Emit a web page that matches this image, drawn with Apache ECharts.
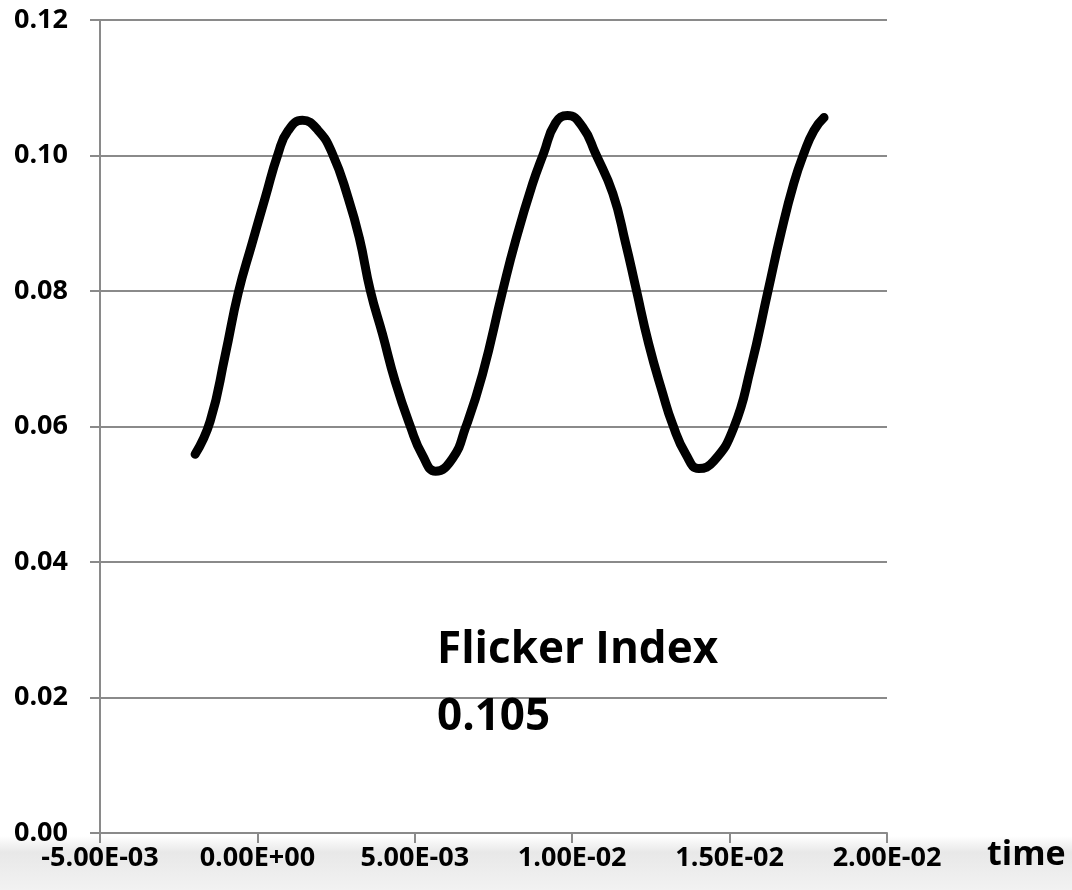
<!DOCTYPE html>
<html>
<head>
<meta charset="utf-8">
<script src="https://cdn.jsdelivr.net/npm/echarts@6/dist/echarts.min.js"></script>
<style>
html,body{margin:0;padding:0;background:#fff;}
#chart{width:1072px;height:890px;}
</style>
</head>
<body>
<div id="chart"></div>
<script>
// Data
var timeValues = [-0.00198,-0.00150,-0.00102,-0.00061,-0.00017,0.00025,0.00066,0.00098,0.00143,0.00193,0.00238,0.00288,0.00324,0.00359,0.00397,0.00438,0.00486,0.00524,0.00566,0.00620,0.00661,0.00715,0.00779,0.00820,0.00874,0.00909,0.00947,0.00985,0.01033,0.01074,0.01129,0.01170,0.01202,0.01243,0.01288,0.01319,0.01361,0.01402,0.01450,0.01513,0.01567,0.01622,0.01663,0.01704,0.01736,0.01768,0.01800];
var flickerValues = [0.0559,0.0608,0.0706,0.0797,0.0870,0.0938,0.1003,0.1037,0.1052,0.1037,0.1003,0.0938,0.0878,0.0800,0.0737,0.0666,0.0600,0.0558,0.0534,0.0553,0.0598,0.0677,0.0800,0.0874,0.0958,0.1003,0.1048,0.1059,0.1042,0.1003,0.0944,0.0870,0.0805,0.0722,0.0648,0.0603,0.0559,0.0538,0.0549,0.0598,0.0686,0.0800,0.0885,0.0959,0.1003,0.1037,0.1056];
var xTickLabels = {"-0.005":"-5.00E-03","0":"0.00E+00","0.005":"5.00E-03","0.01":"1.00E-02","0.015":"1.50E-02","0.02":"2.00E-02"};
var annotationLines = ["Flicker Index","0.105"];
var xAxisName = "time";

var pts = timeValues.map(function(t,i){return [t, flickerValues[i]];});
var FONT = '"Open Sans", "DejaVu Sans", sans-serif';
var gridColor = '#8a8a8a';

var chart = echarts.init(document.getElementById('chart'));
chart.setOption({
  animation:false,
  backgroundColor:'#ffffff',
  graphic:[
    {type:'rect', z:-10, silent:true, shape:{x:0,y:836,width:1072,height:54},
     style:{fill:new echarts.graphic.LinearGradient(0,0,0,1,[
       {offset:0,color:'#ffffff'},{offset:0.3,color:'#e8e8e8'},{offset:1,color:'#f2f2f2'}])}},
    {type:'text', left:437, top:628, z:10,
     style:{text:annotationLines[0], font:'bold 44px '+FONT, fill:'#000'}},
    {type:'text', left:437, top:695, z:10,
     style:{text:annotationLines[1], font:'bold 44px '+FONT, fill:'#000'}},
    {type:'text', left:987, top:838, z:10,
     style:{text:xAxisName, font:'bold 34px '+FONT, fill:'#000'}}
  ],
  grid:{left:100, right:185, top:20, bottom:57, containLabel:false},
  xAxis:{
    type:'value', min:-0.005, max:0.02, interval:0.005,
    axisLine:{show:true, onZero:false, lineStyle:{color:gridColor, width:2}},
    axisTick:{show:true, inside:false, length:10, lineStyle:{color:gridColor, width:2}},
    splitLine:{show:false},
    axisLabel:{margin:12, fontFamily:FONT, fontWeight:'bold', fontSize:27, color:'#000',
      formatter:function(v){ var k = String(Math.round(v*1000)/1000); return xTickLabels[k]!==undefined?xTickLabels[k]:v; }}
  },
  yAxis:{
    type:'value', min:0, max:0.12, interval:0.02,
    axisLine:{show:true, onZero:false, lineStyle:{color:gridColor, width:2}},
    axisTick:{show:true, inside:false, length:10, lineStyle:{color:gridColor, width:2}},
    splitLine:{show:true, lineStyle:{color:gridColor, width:2}},
    axisLabel:{margin:32, fontFamily:FONT, fontWeight:'bold', fontSize:27, color:'#000',
      formatter:function(v){return v.toFixed(2);}}
  },
  series:[{
    type:'line', data:pts, showSymbol:false, smooth:0.5,
    lineStyle:{color:'#000', width:9, cap:'round', join:'round'}
  }]
});
</script>
</body>
</html>
